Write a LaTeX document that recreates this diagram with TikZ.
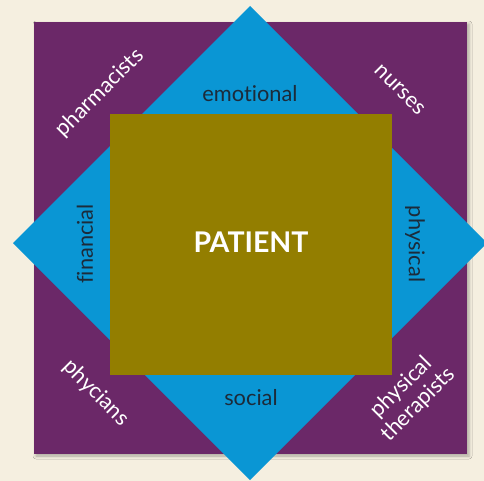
\documentclass[tikz,border=0pt]{standalone}
\usepackage{fontspec}
\setmainfont{Lato}[Ligatures={NoCommon}]
\usetikzlibrary{shadows.blur}
\definecolor{bgcream}{HTML}{F5EFE0}
\definecolor{purp}{HTML}{6B2868}
\definecolor{skyb}{HTML}{0A96D4}
\definecolor{olive}{HTML}{937E00}
\definecolor{inkdark}{HTML}{1C2B3A}
\tikzset{
  inner/.style={font=\fontsize{21.8}{24}\selectfont, text=inkdark, inner sep=0pt},
  outer/.style={font=\fontsize{21.8}{24}\selectfont, text=white, inner sep=0pt, align=center},
}
\begin{document}
\begin{tikzpicture}[x=1pt,y=-1pt]
\useasboundingbox (0,0) rectangle (484,481);
\fill[bgcream] (0,0) rectangle (484,481);
\fill[purp, blur shadow={shadow xshift=2pt, shadow yshift=-2pt, shadow blur radius=3pt, shadow opacity=30}] (34,22) rectangle (467,454);
\fill[skyb] (250,6) -- (487,243) -- (250,480) -- (13,243) -- cycle;
\node[fill=olive, minimum width=282pt, minimum height=261pt, inner sep=0pt, anchor=north west] (patient) at (110,114) {};
\node[font=\bfseries\fontsize{28.5}{30}\selectfont, text=white] (ptext) at (251,242) {PATIENT};
\node[inner] (emo) at (250,94) {emotional};
\node[inner] (soc) at (251,398) {social};
\node[inner, rotate=90] (fin) at (85,244) {financial};
\node[inner, rotate=-90] (phy) at (415,244) {physical};
\node[outer, rotate=45] (pharm) at (100,93) {pharmacists};
\node[outer, rotate=-45] (nurse) at (400,90) {nurses};
\node[outer, rotate=-45] (phyc) at (96,393) {phycians};
\node[outer, rotate=45] (pther) at (410,396) {physical\\therapists};
\end{tikzpicture}
\end{document}
